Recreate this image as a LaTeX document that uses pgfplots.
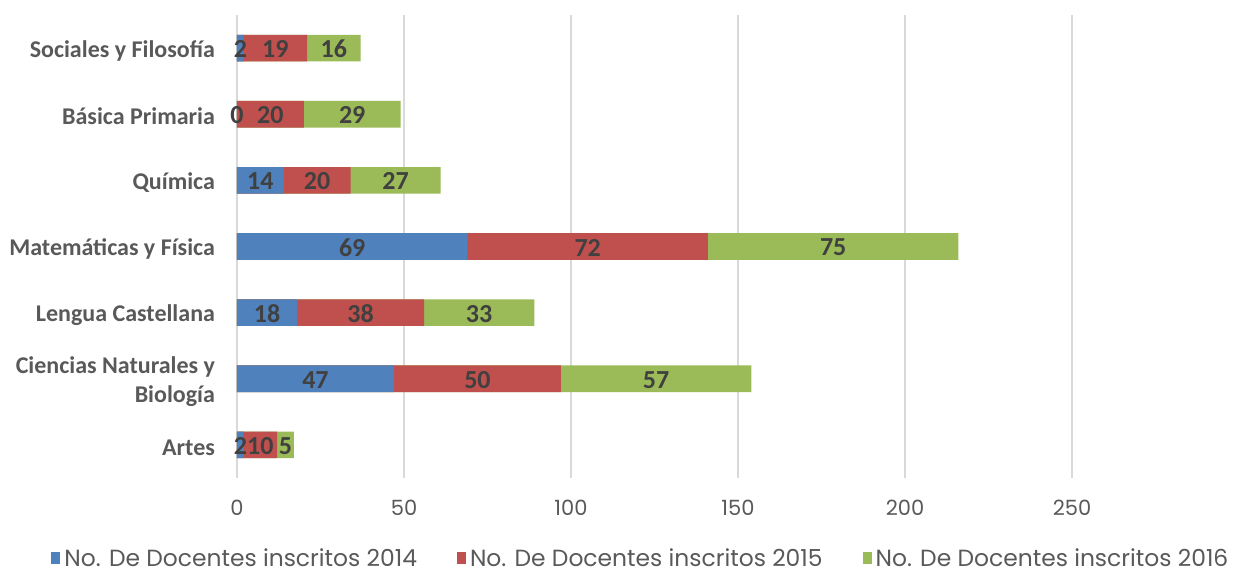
\documentclass[border=0pt]{standalone}
\usepackage{fontspec}
\usepackage{pgfplots}
\usepackage{pgfplotstable}
\pgfplotsset{compat=1.18}
\setmainfont{Carlito}
\newfontfamily\gothic{Poppins}
\definecolor{c1}{HTML}{4F81BD}
\definecolor{c2}{HTML}{C0504D}
\definecolor{c3}{HTML}{9BBB59}
\definecolor{labgray}{HTML}{595959}
\definecolor{lab}{HTML}{404040}
\definecolor{gridgray}{HTML}{D9D9D9}
\pgfplotstableread{
y a b c
0 2 10 5
1 47 50 57
2 18 38 33
3 69 72 75
4 14 20 27
5 0 20 29
6 2 19 16
}\data
\pgfplotsset{
  sqlegend/.style={legend image code/.code={\fill[##1] (0pt,-2.5pt) rectangle (4.5pt,3.5pt);}},
  lbl/.style={only marks, mark=none, nodes near coords, point meta=explicit,
    nodes near coords style={font=\bfseries\fontsize{13}{14}\selectfont, text=lab, anchor=center, inner sep=0pt, yshift=-0.5pt},
    forget plot},
  barsty/.style={xbar, bar width=13.3pt, bar shift=0pt, draw=none, forget plot}
}
\begin{document}
\begin{tikzpicture}
\begin{axis}[name=ax, scale only axis, width=484.3pt, height=231.5pt,
  xmin=0, xmax=290, ymin=-0.5, ymax=6.5,
  xtick={0,50,...,250}, ytick={0,...,6},
  yticklabels={Artes, {Ciencias Naturales y\\Biología}, Lengua Castellana, Matemáticas y Física, Química, Básica Primaria, Sociales y Filosofía},
  yticklabel style={align=right, font=\bfseries\fontsize{12}{14.5}\selectfont, text=labgray, xshift=-7.5pt, yshift=-1.2pt},
  xticklabel style={font=\gothic\fontsize{10.5}{12}\selectfont, text=labgray, yshift=-7.5pt},
  /pgf/number format/assume math mode=true,
  axis line style={draw=none}, major tick length=0pt,
  xmajorgrids, grid style={color=gridgray, line width=0.75pt},
  clip=false, sqlegend,
  legend columns=3,
  legend style={at={(0.418,-0.175)}, anchor=center, draw=none, fill=none,
    inner sep=0pt, outer sep=0pt,
    font=\gothic\fontsize{11.7}{13}\selectfont, text=labgray,
    /tikz/every even column/.append style={column sep=18pt},
    cells={inner xsep=1pt}},
]
\addplot[barsty, fill=c3] table[x expr=\thisrow{a}+\thisrow{b}+\thisrow{c}, y=y] {\data};
\addplot[barsty, fill=c2] table[x expr=\thisrow{a}+\thisrow{b}, y=y] {\data};
\addplot[barsty, fill=c1] table[x=a, y=y] {\data};
\addplot[lbl] table[x expr=\thisrow{a}/2, y=y, meta=a] {\data};
\addplot[lbl] table[x expr=\thisrow{a}+\thisrow{b}/2, y=y, meta=b] {\data};
\addplot[lbl] table[x expr=\thisrow{a}+\thisrow{b}+\thisrow{c}/2, y=y, meta=c] {\data};
\addlegendimage{fill=c1, draw=none}
\addlegendentry{No. De Docentes inscritos 2014}
\addlegendimage{fill=c2, draw=none}
\addlegendentry{No. De Docentes inscritos 2015}
\addlegendimage{fill=c3, draw=none}
\addlegendentry{No. De Docentes inscritos 2016}
\end{axis}
\path (ax.south west) ++(-118.5pt,-45pt) rectangle ++(617.5pt,284pt);
\end{tikzpicture}
\end{document}
